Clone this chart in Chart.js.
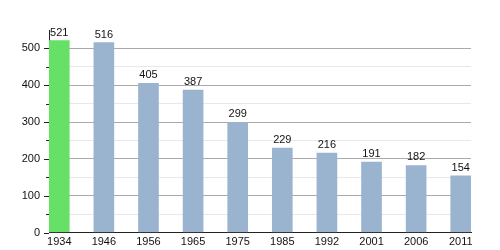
<!DOCTYPE html>
<html>
<head>
<meta charset="utf-8">
<script src="https://cdn.jsdelivr.net/npm/chart.js@4/dist/chart.umd.min.js"></script>
<style>
html,body{margin:0;padding:0;background:#fff;}
#wrap{width:500px;height:250px;position:relative;}
</style>
</head>
<body>
<div id="wrap"><canvas id="c" width="500" height="250"></canvas></div>
<script>
const years = ["1934","1946","1956","1965","1975","1985","1992","2001","2006","2011"];
const population = [521, 516, 405, 387, 299, 229, 216, 191, 182, 154];
const highlightIndex = 0;
const yTicksMajor = [0, 100, 200, 300, 400, 500];

const GREEN = "#66e066";
const BLUE = "#9ab3cf";
const FONT = "'Liberation Sans', Arial, sans-serif";

const points = population.map((v, i) => ({x: i, y: v}));

const labelsPlugin = {
  id: "valueLabels",
  afterDatasetsDraw(chart) {
    const ctx = chart.ctx;
    const meta = chart.getDatasetMeta(0);
    ctx.save();
    ctx.font = "11px " + FONT;
    ctx.fillStyle = "#111";
    ctx.textAlign = "center";
    ctx.textBaseline = "alphabetic";
    meta.data.forEach((bar, i) => {
      ctx.fillText(String(population[i]), bar.x, bar.y - 5);
    });
    ctx.restore();
  }
};

const ticksPlugin = {
  id: "axisTicks",
  afterDraw(chart) {
    const ctx = chart.ctx;
    const y = chart.scales.y;
    const left = chart.chartArea.left;
    ctx.save();
    ctx.strokeStyle = "#222";
    ctx.lineWidth = 1;
    y.ticks.forEach(t => {
      const py = Math.round(y.getPixelForValue(t.value)) + 0.5;
      const major = t.value % 100 === 0;
      if (t.value > 525) return;
      ctx.beginPath();
      ctx.moveTo(left - (major ? 5 : 3), py);
      ctx.lineTo(left, py);
      ctx.stroke();
    });
    ctx.restore();
  }
};

new Chart(document.getElementById("c"), {
  type: "bar",
  data: {
    datasets: [{
      data: points,
      backgroundColor: population.map((_, i) => i === highlightIndex ? GREEN : BLUE),
      borderWidth: 0,
      barThickness: 20
    }]
  },
  options: {
    responsive: false,
    animation: false,
    devicePixelRatio: 1,
    layout: {padding: {top: 30, right: 29, left: 0, bottom: 0}},
    plugins: {legend: {display: false}, tooltip: {enabled: false}},
    scales: {
      x: {
        type: "linear",
        offset: false,
        min: -0.23,
        max: 9.23,
        afterBuildTicks(scale) {
          scale.ticks = years.map((_, i) => ({value: i}));
        },
        afterFit(scale) { scale.height = 17.5; },
        grid: {display: false, drawTicks: false, offset: false},
        border: {display: true, color: "#222", width: 1},
        ticks: {
          autoSkip: false,
          maxRotation: 0,
          padding: 3,
          color: "#111",
          font: {family: FONT, size: 11},
          callback: (v) => years[v] !== undefined ? years[v] : ""
        }
      },
      y: {
        min: 0,
        max: 550,
        afterBuildTicks(scale) {
          const t = [];
          for (let v = 0; v <= 525; v += 25) t.push({value: v});
          scale.ticks = t;
        },
        afterFit(scale) { scale.width = 49; },
        grid: {
          drawTicks: false,
          color: (c) => {
            if (!c.tick) return "transparent";
            const v = c.tick.value;
            if (v === 0) return "transparent";
            return v % 100 === 0 ? "#aaaaaa" : "#e8e8e8";
          },
          lineWidth: 1
        },
        border: {display: true, color: "#222", width: 1},
        ticks: {
          padding: 9,
          color: "#111",
          font: {family: FONT, size: 11},
          callback: (v) => yTicksMajor.includes(v) ? String(v) : ""
        }
      }
    }
  },
  plugins: [labelsPlugin, ticksPlugin]
});
</script>
</body>
</html>
